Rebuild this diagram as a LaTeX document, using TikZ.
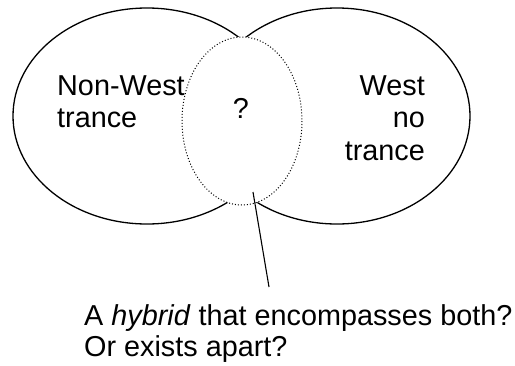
\documentclass[tikz,border=0pt]{standalone}
\usepackage{fontspec}
\setmainfont{Liberation Sans}
\begin{document}
\begin{tikzpicture}[x=1pt,y=-1pt,
  lbl/.style={inner sep=0pt,font=\fontsize{28.8}{32}\selectfont},
  solidell/.style={draw=black,line width=1.3pt,fill=white},
  dotell/.style={draw=black,line width=1pt,dash pattern=on 1pt off 2pt,fill=white},
  pointer/.style={draw=black,line width=1.1pt}]
\useasboundingbox (0,0) rectangle (515,365);
% circles
\path[solidell] (147,116) ellipse [x radius=134, y radius=108];
\path[solidell] (337,116) ellipse [x radius=133, y radius=108];
\path[dotell] (242,121) ellipse [x radius=60, y radius=84];
\coordinate (hybridpt) at (253,192);
% labels
\node[lbl,anchor=base west] (nw1) at (57,95) {Non-West};
\node[lbl,anchor=base west] (nw2) at (57,127) {trance};
\node[lbl,anchor=base east] (w1) at (425,95) {West};
\node[lbl,anchor=base east] (w2) at (425,127) {no};
\node[lbl,anchor=base east] (w3) at (425,160) {trance};
\node[lbl,anchor=base] (q) at (241,118) {?};
\node[lbl,anchor=base west] (c1) at (84,325) {A \textit{hybrid} that encompasses both?};
\node[lbl,anchor=base west] (c2) at (84,356) {Or exists apart?};
\coordinate (lineend) at (269,287);
\draw[pointer] (hybridpt) -- (lineend);
\end{tikzpicture}
\end{document}
